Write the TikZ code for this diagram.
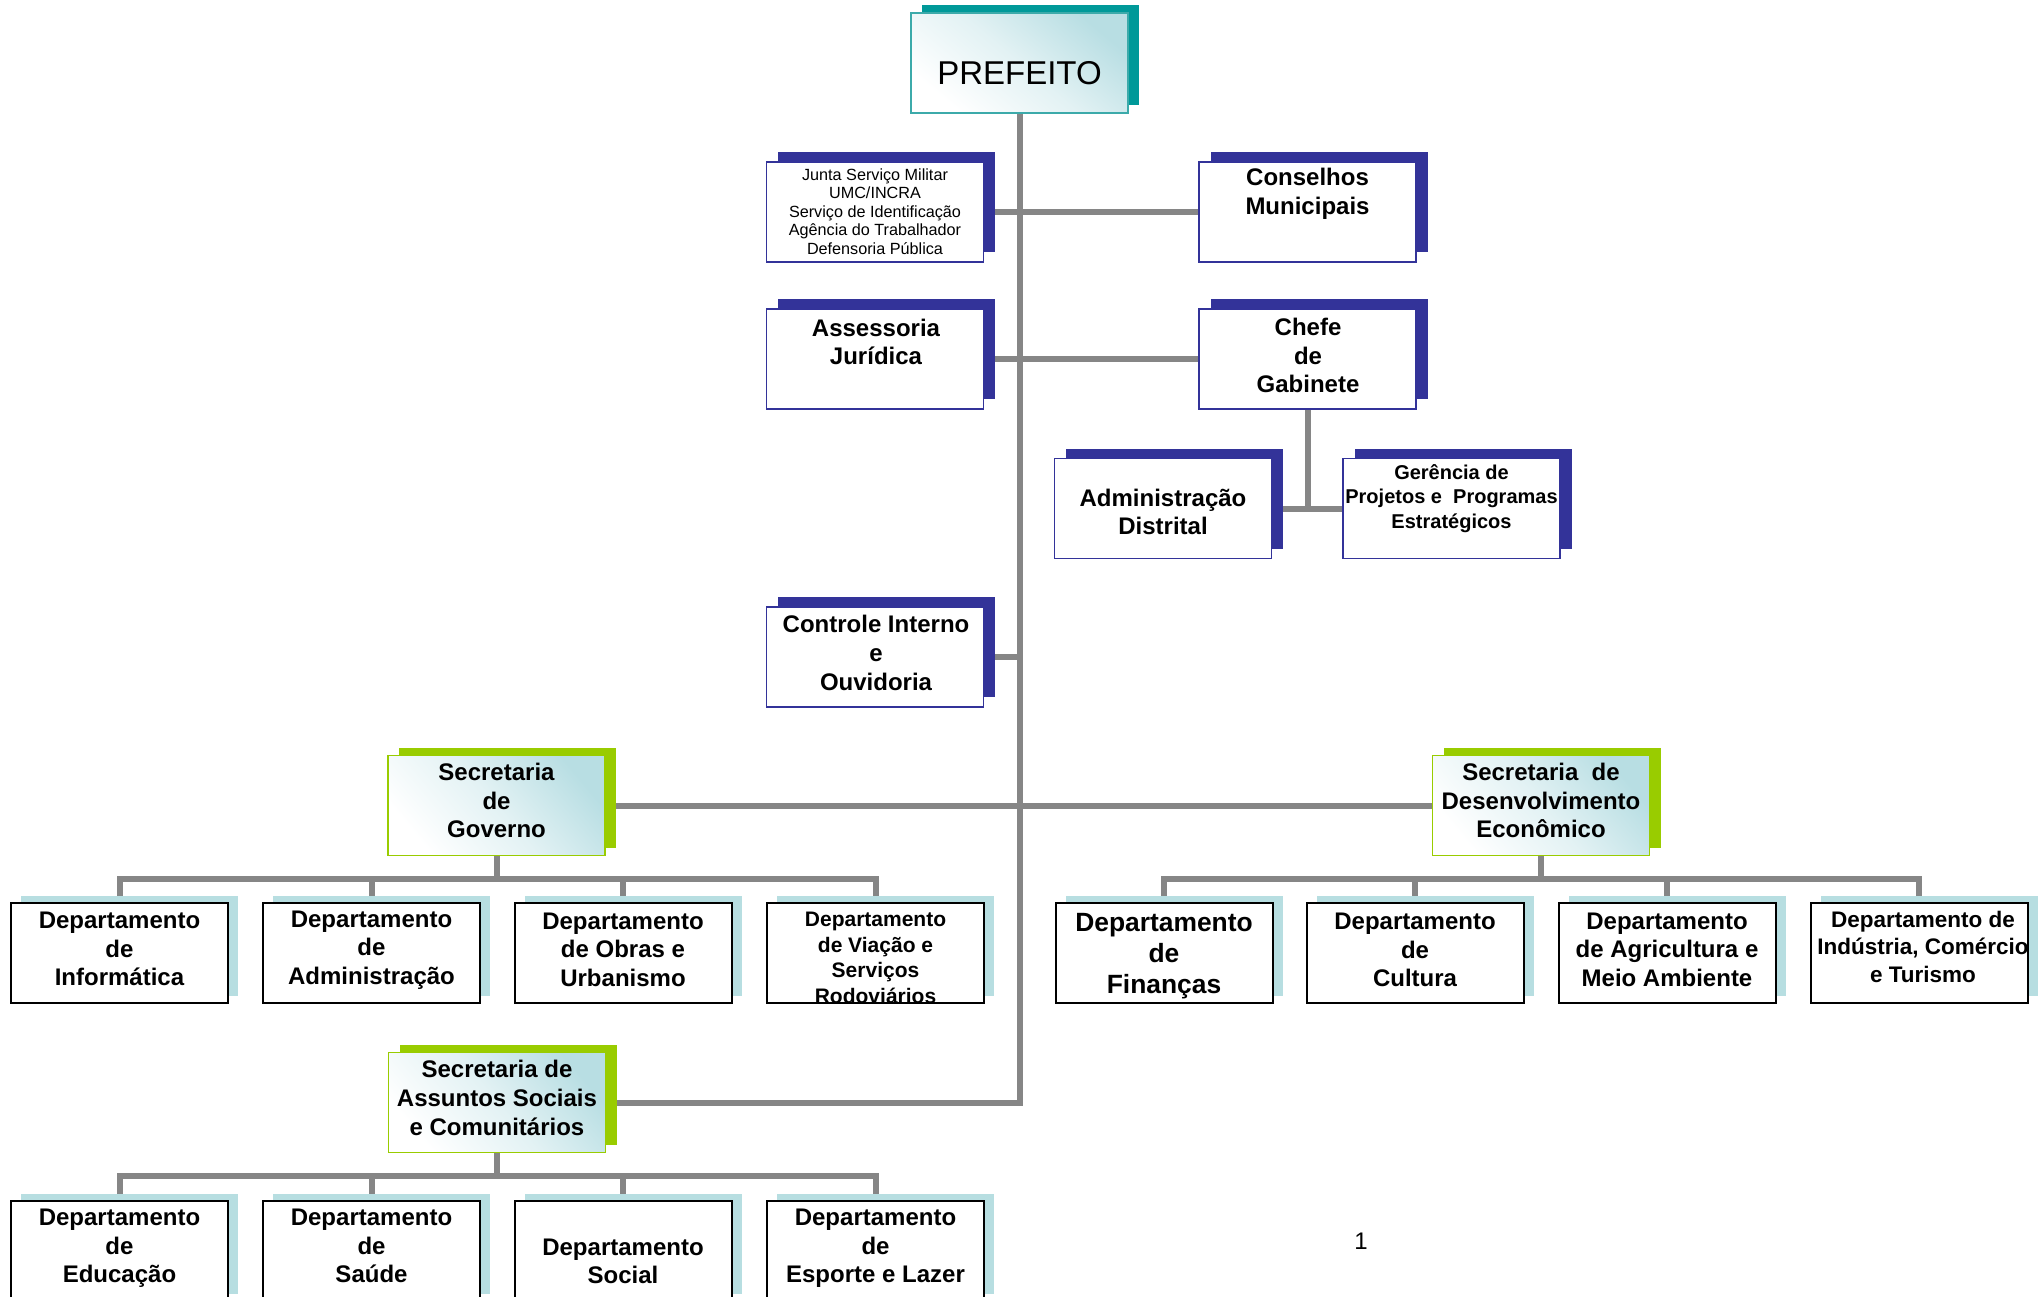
\documentclass[tikz,border=0pt]{standalone}
\usepackage{fontspec}
\setmainfont{Liberation Sans}
\usetikzlibrary{shadows,backgrounds}
\definecolor{navy}{RGB}{51,51,153}
\definecolor{tealsh}{RGB}{0,153,153}
\definecolor{tealbd}{RGB}{60,170,170}
\definecolor{greensh}{RGB}{153,204,0}
\definecolor{ltblue}{RGB}{183,222,225}
\definecolor{gradblue}{RGB}{184,222,227}
\definecolor{linegray}{RGB}{134,134,134}
\begin{document}
\begin{tikzpicture}[x=1pt,y=-1pt,
  conn/.style={draw=linegray, line width=6pt},
  basebox/.style={minimum width=217pt, minimum height=100pt, inner sep=0pt, outer sep=0pt},
  navybox/.style={basebox, draw=navy, line width=1.8pt, fill=white,
    general shadow={fill=navy, shadow xshift=11.5pt, shadow yshift=10pt}},
  deptbox/.style={basebox, draw=black, line width=2pt, fill=white,
    general shadow={fill=ltblue, shadow xshift=10pt, shadow yshift=7.5pt}},
  secbox/.style={basebox, draw=greensh, line width=1.8pt, top color=gradblue, bottom color=white, middle color=gradblue!40!white, shading angle=-50,
    general shadow={fill=greensh, shadow xshift=11pt, shadow yshift=8pt}},
  prefbox/.style={basebox, draw=tealbd, line width=1.8pt, top color=gradblue, bottom color=white, middle color=gradblue!40!white, shading angle=-40,
    general shadow={fill=tealsh, shadow xshift=11pt, shadow yshift=8pt}},
  bt/.style={font=\fontsize{24}{28.6}\selectfont\bfseries, align=center, inner sep=0pt},
  smt/.style={font=\fontsize{16.2}{18.6}\selectfont, align=center, inner sep=0pt},
]
\useasboundingbox (0,0) rectangle (2042,1296);

% top
\node[prefbox] (pref) at (1019.5,63) {};
\node[font=\fontsize{33}{38}\selectfont, inner sep=0pt] (tpref) at (1019.5,73) {PREFEITO};

\node[navybox] (junta) at (875,212) {};
\node[smt] (tjunta) at (875,211.5) {Junta Serviço Militar\\UMC/INCRA\\Serviço de Identificação\\Agência do Trabalhador\\Defensoria Pública};
\node[navybox] (cons) at (1307.5,212) {};
\node[bt] (tcons) at (1307.5,194) {Conselhos\\Municipais};
\node[navybox] (asse) at (875,359) {};
\node[bt] (tasse) at (876,342) {Assessoria\\Jurídica};
\node[navybox] (chefe) at (1307.5,359) {};
\node[bt] (tchefe) at (1308,355.5) {Chefe\\de\\Gabinete};
\node[navybox] (adm) at (1163,508.5) {};
\node[bt] (tadm) at (1163,512) {Administração\\Distrital};
\node[navybox] (ger) at (1451.5,508.5) {};
\node[font=\fontsize{20}{24.5}\selectfont\bfseries, align=center, inner sep=0pt] (tger) at (1451.5,498.5) {Gerência de\\Projetos e\ \ Programas\\Estratégicos};
\node[navybox] (ctrl) at (875,657) {};
\node[bt] (tctrl) at (876,653) {Controle Interno\\e\\Ouvidoria};

% secretarias
\node[secbox] (gov) at (496.5,805.5) {};
\node[bt] (tgov) at (496.5,800.5) {Secretaria\\de\\Governo};
\node[secbox] (des) at (1541,805.5) {};
\node[bt] (tdes) at (1541,800.5) {Secretaria\ \ de\\Desenvolvimento\\Econômico};
\node[secbox] (soc) at (497,1102.5) {};
\node[bt] (tsoc) at (497,1098) {Secretaria de\\Assuntos Sociais\\e Comunitários};

% departments row 1 left
\node[deptbox] (d1) at (119.5,953) {};
\node[bt] (td1) at (119.5,949) {Departamento\\de\\Informática};
\node[deptbox] (d2) at (371.5,953) {};
\node[bt] (td2) at (371.5,950) {Departamento\\de\\Administração};
\node[deptbox] (d3) at (623,953) {};
\node[bt] (td3) at (623,949.5) {Departamento\\de Obras e\\Urbanismo};
\node[deptbox] (d4) at (875.5,953) {};
\begin{scope}
  \clip (d4.south west) rectangle (d4.north east);
  \node[font=\fontsize{21}{25.5}\selectfont\bfseries, align=center, inner sep=0pt] (td4) at (875.5,958) {Departamento\\de Viação e\\Serviços\\Rodoviários};
\end{scope}

% departments row 1 right
\node[deptbox] (d5) at (1164,953) {};
\node[font=\fontsize{26.4}{31}\selectfont\bfseries, align=center, inner sep=0pt] (td5) at (1164,956.5) {Departamento\\de\\Finanças};
\node[deptbox] (d6) at (1415,953) {};
\node[bt] (td6) at (1415,950) {Departamento\\de\\Cultura};
\node[deptbox] (d7) at (1667,953) {};
\node[bt] (td7) at (1667,949.5) {Departamento\\de Agricultura e\\Meio Ambiente};
\node[deptbox] (d8) at (1919,953) {};
\begin{scope}
  \clip (d8.south west) rectangle (d8.north east);
  \node[font=\fontsize{22.5}{27.5}\selectfont\bfseries, align=center, inner sep=0pt] (td8) at (1923,946.5) {Departamento de\\Indústria, Comércio\\e Turismo};
\end{scope}

% departments row 3
\node[deptbox] (e1) at (119.5,1251) {};
\node[bt] (te1) at (119.5,1248.5) {Departamento\\de\\Educação};
\node[deptbox] (e2) at (371.5,1251) {};
\node[bt] (te2) at (371.5,1246) {Departamento\\de\\Saúde};
\node[deptbox] (e3) at (623,1251) {};
\node[bt] (te3) at (623,1261.5) {Departamento\\Social};
\node[deptbox] (e4) at (875.5,1251) {};
\node[bt] (te4) at (875.5,1248.5) {Departamento\\de\\Esporte e Lazer};

\node[font=\fontsize{24}{28}\selectfont, inner sep=0pt] (pg) at (1361,1241) {1};

% connectors
\coordinate (busA) at (0,879);
\coordinate (busB) at (0,1176);
\begin{scope}[on background layer]
  \draw[conn] (pref.south) -- (pref.south |- soc.east) -- (soc.east);
  \draw[conn] (junta.east) -- (cons.west);
  \draw[conn] (asse.east) -- (chefe.west);
  \draw[conn] (chefe.south) -- (chefe.south |- adm.east);
  \draw[conn] (adm.east) -- (ger.west);
  \draw[conn] (ctrl.east) -- (ctrl.east -| pref.south);
  \draw[conn] (gov.east) -- (des.west);
  % governo bus
  \draw[conn] (gov.south) -- (gov.south |- busA);
  \draw[conn] (d1.north) -- (d1.north |- busA) -- (d4.north |- busA) -- (d4.north);
  \draw[conn] (d2.north |- busA) -- (d2.north);
  \draw[conn] (d3.north |- busA) -- (d3.north);
  % desenvolvimento bus
  \draw[conn] (des.south) -- (des.south |- busA);
  \draw[conn] (d5.north) -- (d5.north |- busA) -- (d8.north |- busA) -- (d8.north);
  \draw[conn] (d6.north |- busA) -- (d6.north);
  \draw[conn] (d7.north |- busA) -- (d7.north);
  % assuntos sociais bus
  \draw[conn] (soc.south) -- (soc.south |- busB);
  \draw[conn] (e1.north) -- (e1.north |- busB) -- (e4.north |- busB) -- (e4.north);
  \draw[conn] (e2.north |- busB) -- (e2.north);
  \draw[conn] (e3.north |- busB) -- (e3.north);
\end{scope}
\end{tikzpicture}
\end{document}
